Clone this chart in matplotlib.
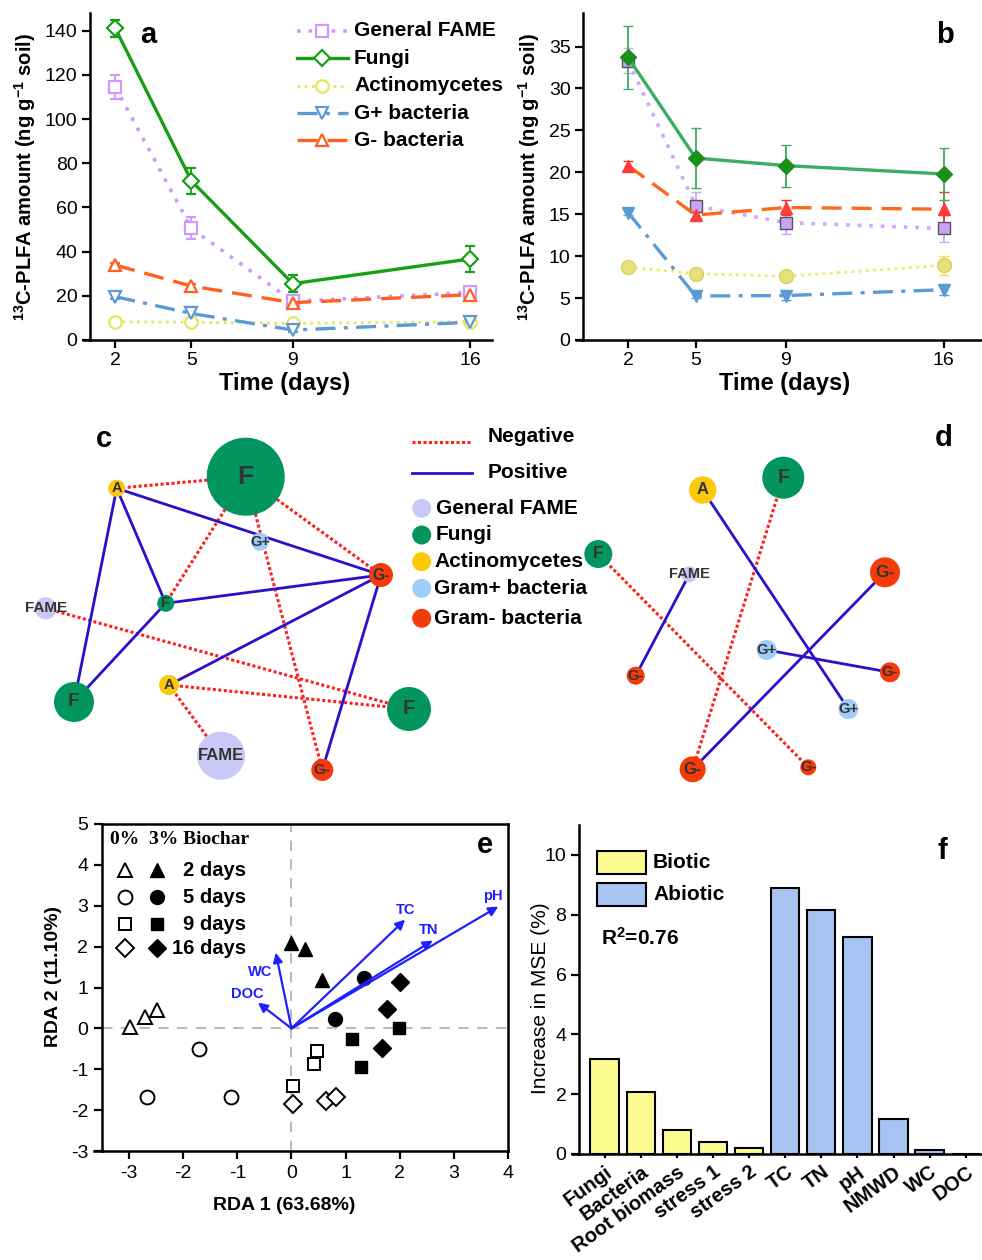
import matplotlib
matplotlib.use('Agg')
import matplotlib.pyplot as plt
from matplotlib.patches import Circle, Rectangle

plt.rcParams['font.family'] = ['Liberation Sans', 'DejaVu Sans']
plt.rcParams['axes.unicode_minus'] = False
plt.rcParams['mathtext.fontset'] = 'custom'
plt.rcParams['mathtext.rm'] = 'Liberation Sans:bold'
plt.rcParams['mathtext.it'] = 'Liberation Sans:bold'
plt.rcParams['mathtext.bf'] = 'Liberation Sans:bold'

W, H = 982, 1260

# ------------------------------------------------------------------ data a/b
days = [2, 5, 9, 16]
series_names = ['General FAME', 'Fungi', 'Actinomycetes', 'G+ bacteria', 'G- bacteria']

a_fame = [114.5, 50.5, 17.5, 21.5]
a_fame_err = [5.5, 5.0, 2.0, 2.0]
a_fungi = [141.0, 72.0, 25.5, 36.7]
a_fungi_err = [4.0, 6.0, 4.0, 6.0]
a_actino = [8.3, 8.0, 7.5, 8.3]
a_actino_err = [1.0, 1.0, 1.0, 1.0]
a_gpos = [19.6, 12.0, 4.5, 8.0]
a_gpos_err = [1.0, 2.0, 1.0, 1.0]
a_gneg = [33.9, 24.4, 16.9, 20.5]
a_gneg_err = [1.0, 1.0, 1.5, 1.0]

b_fame = [33.3, 16.0, 14.0, 13.3]
b_fame_err = [1.5, 1.6, 1.3, 1.6]
b_fungi = [33.7, 21.7, 20.8, 19.8]
b_fungi_err = [3.8, 3.6, 2.5, 3.1]
b_actino = [8.7, 7.9, 7.6, 8.9]
b_actino_err = [0.3, 0.3, 0.3, 1.1]
b_gpos = [15.2, 5.25, 5.3, 6.0]
b_gpos_err = [0.3, 0.3, 0.5, 0.6]
b_gneg = [20.8, 14.9, 15.8, 15.6]
b_gneg_err = [0.5, 0.4, 0.9, 2.0]

# ------------------------------------------------------------------ networks
c_labels = ['F', 'A', 'G+', 'G-', 'F', 'FAME', 'F', 'A', 'F', 'FAME', 'G-']
c_types = ['fungi', 'actino', 'gpos', 'gneg', 'fungi', 'fame', 'fungi', 'actino', 'fungi', 'fame', 'gneg']
c_x = [245.7, 116.7, 260, 381, 165.7, 45.7, 74, 169, 409, 221, 322.3]
c_y = [476.7, 488.3, 541.7, 575, 603.3, 608.3, 702, 685, 709, 755.7, 770]
c_size = [39, 8.5, 9, 12, 8.5, 11, 20, 10, 22, 24, 11]
c_neg_edges = [(1, 0), (0, 4), (0, 3), (0, 10), (5, 8), (7, 8), (7, 9)]
c_pos_edges = [(1, 3), (1, 4), (1, 6), (4, 6), (4, 3), (7, 3), (3, 10)]

d_labels = ['A', 'F', 'F', 'FAME', 'G-', 'G+', 'G-', 'G-', 'G+', 'G-', 'G-']
d_types = ['actino', 'fungi', 'fungi', 'fame', 'gneg', 'gpos', 'gneg', 'gneg', 'gpos', 'gneg', 'gneg']
d_x = [702.7, 783.3, 598.3, 689.3, 885, 766.7, 890, 635.7, 848.3, 692.7, 808.3]
d_y = [490, 477.7, 554, 574.3, 572.3, 650, 672.3, 675.7, 709, 769.3, 767.3]
d_size = [13.7, 21, 14, 8, 15, 10, 10, 9, 10, 13, 8]
d_neg_edges = [(1, 9), (2, 10)]
d_pos_edges = [(0, 8), (3, 7), (5, 6), (4, 9)]

node_colors = {'fame': '#c9c8f6', 'fungi': '#03955f', 'actino': '#fbc80a',
               'gpos': '#9fcdf7', 'gneg': '#f63b0b'}
net_legend_types = ['fame', 'fungi', 'actino', 'gpos', 'gneg']
net_legend_names = ['General FAME', 'Fungi', 'Actinomycetes', 'Gram+ bacteria', 'Gram- bacteria']

# ------------------------------------------------------------------ RDA (e)
e_groups = ['2 days', '5 days', '9 days', '16 days']
e_markers = ['^', 'o', 's', 'D']
e0_x = [[-2.99, -2.70, -2.48], [-1.71, -2.67, -1.11], [0.48, 0.42, 0.03], [0.03, 0.64, 0.82]]
e0_y = [[0.04, 0.29, 0.45], [-0.51, -1.69, -1.67], [-0.55, -0.86, -1.40], [-1.84, -1.77, -1.67]]
e3_x = [[0.0, 0.25, 0.56], [1.34, 0.80], [1.11, 1.28, 1.99], [2.0, 1.77, 1.68]]
e3_y = [[2.08, 1.94, 1.18], [1.23, 0.22], [-0.25, -0.94, 0.0], [1.14, 0.47, -0.49]]
env_vars = ['pH', 'TC', 'TN', 'WC', 'DOC']
env_x = [3.82, 2.10, 2.61, -0.29, -0.62]
env_y = [2.98, 2.66, 2.15, 1.85, 0.63]
env_lab_x = [3.72, 2.10, 2.53, -0.57, -0.81]
env_lab_y = [3.24, 2.90, 2.41, 1.37, 0.84]

# ------------------------------------------------------------------ RF (f)
f_cats = ['Fungi', 'Bacteria', 'Root biomass', 'stress 1', 'stress 2',
          'TC', 'TN', 'pH', 'NMWD', 'WC', 'DOC']
f_vals = [3.19, 2.06, 0.79, 0.39, 0.21, 8.90, 8.15, 7.27, 1.17, 0.14, 0.0]
f_group = ['Biotic'] * 5 + ['Abiotic'] * 6
f_colors = {'Biotic': '#fbfb8f', 'Abiotic': '#a6c3f1'}

# ================================================================== figure
fig = plt.figure(figsize=(W / 100, H / 100), dpi=100)


def px_axes(l, t, r, b):
    return fig.add_axes([l / W, 1 - b / H, (r - l) / W, (b - t) / H])


def style_open(ax, ext=8, labelsize=14):
    ax.spines['top'].set_visible(False)
    ax.spines['right'].set_visible(False)
    for s in ('left', 'bottom'):
        ax.spines[s].set_linewidth(1.8)
    ax.tick_params(direction='out', length=6, width=1.6, labelsize=labelsize, pad=3)
    ax.set_facecolor('none')
    # Origin-style bottom axis extension to the left
    ax.plot([-ext / (ax.get_position().width * W), 0], [0, 0], transform=ax.transAxes,
            color='black', lw=1.8, clip_on=False, solid_capstyle='butt')


# ------------------------------------------------------------------ panel a
axa = px_axes(90, 13, 492, 340)
style_open(axa)
sty_a = [
    (a_fame, a_fame_err, '#cc99ff', (0, (1, 2.2)), 's', 8, 2.6),
    (a_actino, a_actino_err, '#e6e65a', (0, (1, 1.6)), 'o', 9, 2.0),
    (a_gpos, a_gpos_err, '#5b9bd5', (0, (6, 2.5, 1.2, 2.5)), 'v', 9, 2.4),
    (a_gneg, a_gneg_err, '#ff5f1f', (0, (6, 3)), '^', 9, 2.4),
    (a_fungi, a_fungi_err, '#17a017', '-', 'D', 8, 2.4),
]
for vals, err, col, ls, mk, ms, lw in sty_a:
    axa.errorbar(days, vals, yerr=err, color=col, ls=ls, lw=lw, marker=mk, ms=ms,
                 mfc='white', mec=col, mew=1.6, capsize=3.5, elinewidth=1.3, capthick=1.3)
axa.set_xlim(1.0, 16.85)
axa.set_ylim(0, 148)
axa.set_xticks(days)
axa.set_yticks([0, 20, 40, 60, 80, 100, 120, 140])
axa.set_xlabel('Time (days)', fontsize=17, fontweight='bold')
axa.xaxis.set_label_coords(0.485, -0.098)
axa.xaxis.label.set_va('top')
axa.set_ylabel(r'$^{13}$C-PLFA amount (ng g$^{-1}$ soil)', fontsize=14.5, fontweight='bold')
axa.yaxis.set_label_coords(-0.13, 0.5)

# ------------------------------------------------------------------ panel b
axb = px_axes(583, 13, 982, 340)
style_open(axb)
sty_b = [
    (b_fame, b_fame_err, '#d2a6ff', '#c9a3f5', '#555555', (0, (1, 2.2)), 's', 9, 2.6, '#d2a6ff'),
    (b_actino, b_actino_err, '#f0ea5c', '#e8e07a', '#d8d060', (0, (1, 1.6)), 'o', 10, 2.0, '#e6e65a'),
    (b_gpos, b_gpos_err, '#5b9bd5', '#5b9bd5', '#5b9bd5', (0, (6, 2.5, 1.2, 2.5)), 'v', 9, 2.4, '#5b9bd5'),
    (b_gneg, b_gneg_err, '#ff6a1a', '#ff3b3b', '#ff3b3b', (0, (6, 3)), '^', 9, 2.4, '#ff2a2a'),
    (b_fungi, b_fungi_err, '#3cad62', '#1a8f1a', '#1a8f1a', '-', 'D', 8, 2.4, '#3cad62'),
]
for vals, err, col, mfc, mec, ls, mk, ms, lw, ecol in sty_b:
    axb.errorbar(days, vals, yerr=err, color=col, ls=ls, lw=lw, marker=mk, ms=ms,
                 mfc=mfc, mec=mec, mew=1.0, capsize=3.5, elinewidth=1.3, capthick=1.3,
                 ecolor=ecol)
axb.set_xlim(0, 17.7)
axb.set_ylim(0, 39)
axb.set_xticks(days)
axb.set_yticks([0, 5, 10, 15, 20, 25, 30, 35])
axb.set_xlabel('Time (days)', fontsize=17, fontweight='bold')
axb.xaxis.set_label_coords(0.504, -0.098)
axb.xaxis.label.set_va('top')
axb.set_ylabel(r'$^{13}$C-PLFA amount (ng g$^{-1}$ soil)', fontsize=14.5, fontweight='bold')
axb.yaxis.set_label_coords(-0.104, 0.5)

# ------------------------------------------------------------------ panel e
axe = px_axes(102, 824, 508, 1151)
for s in axe.spines.values():
    s.set_linewidth(1.8)
axe.tick_params(direction='out', length=6, width=1.6, labelsize=14, pad=4)
axe.axhline(0, color='#bbbbbb', ls=(0, (5, 4)), lw=1.5, zorder=0)
axe.axvline(0, color='#bbbbbb', ls=(0, (5, 4)), lw=1.5, zorder=0)
for i, mk in enumerate(e_markers):
    ms = 10 if mk in ('^', 'o') else 9
    axe.plot(e0_x[i], e0_y[i], ls='none', marker=mk, ms=ms, mfc='white', mec='black', mew=1.4)
    axe.plot(e3_x[i], e3_y[i], ls='none', marker=mk, ms=ms, mfc='black', mec='black')
for name, x, y, lx, ly in zip(env_vars, env_x, env_y, env_lab_x, env_lab_y):
    axe.annotate('', xy=(x, y), xytext=(0, 0),
                 arrowprops=dict(arrowstyle='-|>', color='#1f1fff', lw=1.6, mutation_scale=14,
                                 shrinkA=0, shrinkB=0))
    axe.text(lx, ly, name, color='#1f1fff', fontsize=10.5, fontweight='bold',
             ha='center', va='center')
axe.set_xlim(-3.5, 4)
axe.set_ylim(-3, 5)
axe.set_xticks([-3, -2, -1, 0, 1, 2, 3, 4])
axe.set_yticks([-3, -2, -1, 0, 1, 2, 3, 4, 5])
axe.set_xlabel('RDA 1 (63.68%)', fontsize=14, fontweight='bold')
axe.xaxis.set_label_coords(0.448, -0.14)
axe.xaxis.label.set_va('top')
axe.set_ylabel('RDA 2 (11.10%)', fontsize=14, fontweight='bold')
axe.yaxis.set_label_coords(-0.099, 0.533)
axe.plot([-8 / 406, 0], [0, 0], transform=axe.transAxes, color='black', lw=1.8, clip_on=False)

# ------------------------------------------------------------------ panel f
axf = px_axes(579, 825, 982, 1154)
style_open(axf)
xs = list(range(len(f_cats)))
axf.bar(xs, f_vals, width=0.785, color=[f_colors[g] for g in f_group],
        edgecolor='black', linewidth=1.5, zorder=2)
axf.set_xlim(-0.71, 10.45)
axf.set_ylim(0, 11)
axf.set_yticks([0, 2, 4, 6, 8, 10])
axf.tick_params(axis='y', labelsize=14)
axf.tick_params(axis='x', length=3)
axf.set_xticks(xs)
axf.set_xticklabels(f_cats, rotation=36, ha='right', rotation_mode='anchor',
                    fontsize=14.5, fontweight='bold')
axf.set_ylabel('Increase in MSE (%)', fontsize=15)
axf.yaxis.set_label_coords(-0.072, 0.474)

# ------------------------------------------------------------------ overlay (pixel coords)
ov = fig.add_axes([0, 0, 1, 1])
ov.set_xlim(0, W)
ov.set_ylim(H, 0)
ov.axis('off')
ov.patch.set_alpha(0)

# panel letters
for ch, x, y in [('a', 148, 35), ('b', 945, 35), ('c', 104, 439), ('d', 944, 438),
                 ('e', 485, 845), ('f', 942, 851)]:
    ov.text(x, y, ch, fontsize=21, fontweight='bold', ha='center', va='center')

# legend a
leg_rows = [30.7, 58.3, 85.7, 113.3, 140]
leg_sty = [('#cc99ff', (0, (1, 2.2)), 's', 8, 2.6), ('#17a017', '-', 'D', 8, 2.4),
           ('#e6e65a', (0, (1, 1.6)), 'o', 9, 2.0), ('#5b9bd5', (0, (6, 2.5, 1.2, 2.5)), 'v', 9, 2.4),
           ('#ff5f1f', (0, (6, 3)), '^', 9, 2.4)]
for name, y, (col, ls, mk, ms, lw) in zip(series_names, leg_rows, leg_sty):
    ov.plot([297, 348], [y, y], color=col, ls=ls, lw=lw)
    ov.plot([322.5], [y], marker=mk, ms=ms, mfc='white', mec=col, mew=1.6, ls='none')
    ov.text(354, y, name, fontsize=15, fontweight='bold', va='center', ha='left')


def draw_net(labels, types, xs_, ys_, sizes, neg, pos):
    for i, j in neg:
        ov.plot([xs_[i], xs_[j]], [ys_[i], ys_[j]], color='#ff1f1f', ls=(0, (1, 0.8)), lw=2.2,
                zorder=2)
    for i, j in pos:
        ov.plot([xs_[i], xs_[j]], [ys_[i], ys_[j]], color='#2a0fcc', ls='-', lw=2.0, zorder=2)
    for lab, t, x, y, r in zip(labels, types, xs_, ys_, sizes):
        ov.add_patch(Circle((x, y), r, facecolor=node_colors[t], edgecolor='none', zorder=3))
        fs = max(10.5, min(19, 7.5 + r * 0.32))
        if lab == 'FAME':
            fs = min(fs, 12)
        ov.text(x, y, lab, fontsize=fs, fontweight='bold', color='#333333',
                ha='center', va='center', zorder=4)


draw_net(c_labels, c_types, c_x, c_y, c_size, c_neg_edges, c_pos_edges)
draw_net(d_labels, d_types, d_x, d_y, d_size, d_neg_edges, d_pos_edges)

# network legend
ov.plot([412, 472], [442.3, 442.3], color='#ff1f1f', ls=(0, (1, 0.8)), lw=2.2)
ov.text(488, 437, 'Negative', fontsize=15, fontweight='bold', va='center')
ov.plot([412, 472], [473.3, 473.3], color='#2a0fcc', lw=2.0)
ov.text(488, 473, 'Positive', fontsize=15, fontweight='bold', va='center')
for t, name, y in zip(net_legend_types, net_legend_names, [508.3, 535, 561.7, 588.3, 618.3]):
    ov.add_patch(Circle((421.7, y), 9.5, facecolor=node_colors[t], edgecolor='none'))
    ov.text(436 if t in ('fame', 'fungi') else 434, y, name, fontsize=15, fontweight='bold',
            va='center', ha='left')

# legend e
ov.text(110, 840, '0%  3% Biochar', fontsize=14, fontweight='bold',
        family=['Liberation Serif', 'DejaVu Serif'], va='center', ha='left')
for mk, name, y in zip(e_markers, e_groups, [870, 897.3, 924, 948.3]):
    ms = 10 if mk in ('^', 'o') else 9
    ov.plot([125], [y], marker=mk, ms=ms, mfc='white', mec='black', mew=1.4, ls='none')
    ov.plot([156.7], [y], marker=mk, ms=ms, mfc='black', mec='black', ls='none')
    ov.text(246, y, name, fontsize=14.5, fontweight='bold', va='center', ha='right')

# legend f
for g, y0 in [('Biotic', 850.7), ('Abiotic', 882.7)]:
    ov.add_patch(Rectangle((597, y0), 49, 23.5, facecolor=f_colors[g], edgecolor='black', lw=1.5))
    ov.text(653, y0 + 11.5, g, fontsize=15, fontweight='bold', va='center', ha='left')
ov.text(601, 938, r'R$^{2}$=0.76', fontsize=15, fontweight='bold', va='center', ha='left')

fig.savefig('out.png', dpi=100)
